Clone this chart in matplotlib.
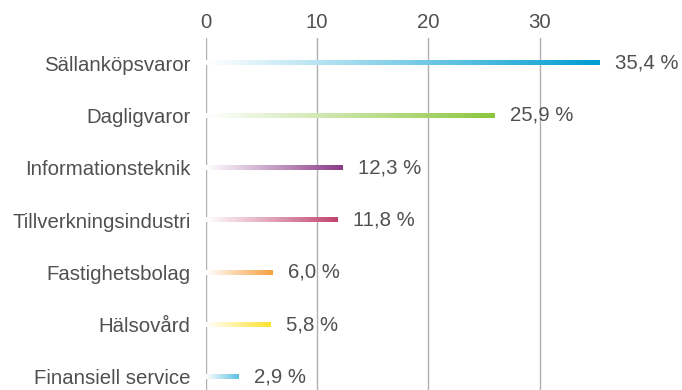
import matplotlib.pyplot as plt
import numpy as np
from matplotlib.colors import LinearSegmentedColormap

categories = ["Sällanköpsvaror", "Dagligvaror", "Informationsteknik", "Tillverkningsindustri",
              "Fastighetsbolag", "Hälsovård", "Finansiell service"]
values = [35.4, 25.9, 12.3, 11.8, 6.0, 5.8, 2.9]
colors = ["#009dd1", "#8cc63e", "#8a3b87", "#c2456f", "#f7a03c", "#ffe22e", "#5bbfe0"]
ticks = [0, 10, 20, 30]

plt.rcParams['font.family'] = ['Liberation Sans', 'DejaVu Sans']
fs = 14.7

fig = plt.figure(figsize=(6.82, 3.9), dpi=100)
ax = fig.add_axes([206 / 682, 0.0, 400 / 682, 1 - 38 / 390])

for t in ticks:
    ax.axvline(t, color="#b0b0b0", lw=1.0, zorder=1)

# gradient bars: white at zero fading into the category colour
bar_h = 0.085
grad = np.linspace(0, 1, 256).reshape(1, -1)
for i, (cat, v, c) in enumerate(zip(categories, values, colors)):
    cmap = LinearSegmentedColormap.from_list(cat, ["#ffffff", c])
    ax.imshow(grad, cmap=cmap, aspect="auto", interpolation="bilinear",
              extent=[0, v, i + bar_h / 2, i - bar_h / 2], zorder=2)
    ax.text(v + 1.4, i, f"{v:.1f} %".replace(".", ","), va="center", ha="left",
            fontsize=fs, color="#505050", clip_on=False)

ax.set_xlim(0, 400 / 11.12)
ax.set_ylim(6.25, -0.48)
ax.set_xticks(ticks)
ax.xaxis.tick_top()
ax.tick_params(axis="x", length=0, pad=4, labelsize=fs, labelcolor="#505050")
ax.set_yticks(range(len(categories)))
ax.set_yticklabels(categories)
ax.tick_params(axis="y", length=0, pad=11, labelsize=fs, labelcolor="#505050")
for s in ax.spines.values():
    s.set_visible(False)

fig.savefig("out.png", dpi=100)
